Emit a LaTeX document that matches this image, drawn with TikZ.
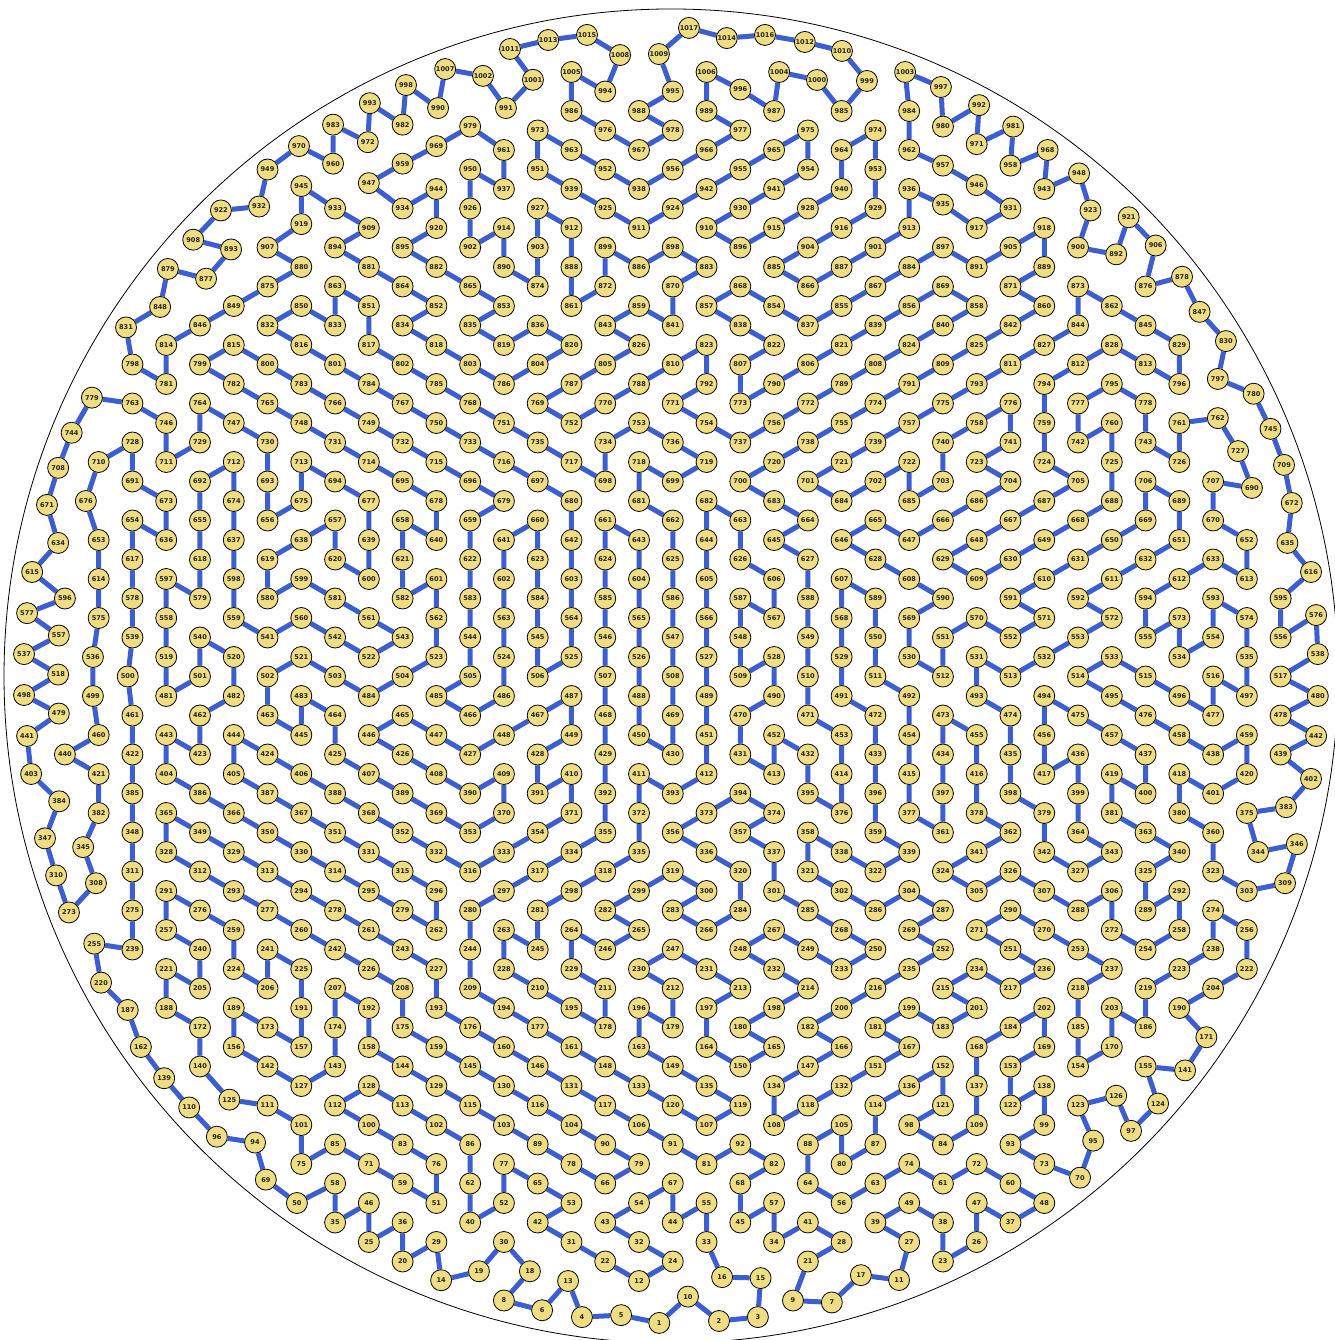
\documentclass[tikz,border=0pt]{standalone}
\usepackage{fontspec}
\newfontfamily\lblfont{DejaVu Sans}
\usetikzlibrary{backgrounds}
\definecolor{nodefill}{RGB}{238,221,130}
\definecolor{edgeblue}{RGB}{60,94,206}
\definecolor{lbltext}{RGB}{34,34,34}
\begin{document}
\begin{tikzpicture}[x=33.77pt,y=-19.5pt,
  v/.style={circle,draw=black,line width=0.8pt,fill=nodefill,inner sep=0pt,minimum size=21pt,
    font=\lblfont\bfseries\fontsize{6.6}{7}\selectfont,text=lbltext},
  tour/.style={draw=edgeblue,line width=5pt},
  rim/.style={draw=black,line width=0.8pt}]
\useasboundingbox (0.0779,-23.6923) rectangle (39.5807,45.0256);
\foreach \n/\c/\m in {
1/19.6/44.15,2/21.37/44.05,3/22.52/43.85,4/17.31/43.85,5/18.47/43.75,6/16.13/43.5,7/24.71/43.1,8/15/43,9/23.56/43,10/20.45/42.8,
11/26.7/41.95,12/19/42,13/16.9/42,14/13.14/41.96,15/22.6/41.85,16/21.46/41.8,17/25.57/41.7,18/15.77/41.5,19/14.26/41.5,20/12/41,
21/24/41,22/18/41,23/28/41,24/20/41,25/11/40,26/29/40,27/27/40,28/25/40,29/13/40,30/15/40,
31/17/40,32/19/40,33/21/40,34/23/40,35/10/39,36/12/39,37/30/39,38/28/39,39/26/39,40/14/39,
41/24/39,42/16/39,43/18/39,44/20/39,45/22/39,46/11/38,47/29/38,48/31/38,49/27/38,50/8.87/38,
51/13/38,52/15/38,53/17/38,54/19/38,55/21/38,56/25/38,57/23/38,58/10/37,59/12/37,60/30/37,
61/28/37,62/14/37,63/26/37,64/24/37,65/16/37,66/18/37,67/20/37,68/22/37,69/7.95/36.8,70/32.06/36.7,
71/11/36,72/29/36,73/31/36,74/27/36,75/9/36,76/13/36,77/15/36,78/17/36,79/19/36,80/25/36,
81/21/36,82/23/36,83/12/35,84/28/35,85/10/35,86/14/35,87/26/35,88/24/35,89/16/35,90/18/35,
91/20/35,92/22/35,93/30/35,94/7.63/34.9,95/32.45/34.8,96/6.5/34.6,97/33.57/34.3,98/27/34,99/31/34,100/11/34,
101/9/34,102/13/34,103/15/34,104/17/34,105/25/34,106/19/34,107/21/34,108/23/34,109/29/34,110/5.68/33.1,
111/8/33,112/10/33,113/12/33,114/26/33,115/14/33,116/16/33,117/18/33,118/24/33,119/22/33,120/20/33,
121/28/33,122/30/33,123/32/33,124/34.37/32.9,125/6.87/32.7,126/33.13/32.5,127/9/32,128/11/32,129/13/32,130/15/32,
131/17/32,132/25/32,133/19/32,134/23/32,135/21/32,136/27/32,137/29/32,138/31/32,139/4.94/31.6,140/6/31,
141/35.17/31.2,142/8/31,143/10/31,144/12/31,145/14/31,146/16/31,147/24/31,148/18/31,149/20/31,150/22/31,
151/26/31,152/28/31,153/30/31,154/32/31,155/34/31,156/7/30,157/9/30,158/11/30,159/13/30,160/15/30,
161/17/30,162/4.25/30,163/19/30,164/21/30,165/23/30,166/25/30,167/27/30,168/29/30,169/31/30,170/33/30,
171/35.8/29.5,172/6/29,173/8/29,174/10/29,175/12/29,176/14/29,177/16/29,178/18/29,179/20/29,180/22/29,
181/26/29,182/24/29,183/28/29,184/30/29,185/32/29,186/34/29,187/3.86/28.1,188/5/28,189/7/28,190/35/28,
191/9/28,192/11/28,193/13/28,194/15/28,195/17/28,196/19/28,197/21/28,198/23/28,199/27/28,200/25/28,
201/29/28,202/31/28,203/33/28,204/36/27,205/6/27,206/8/27,207/10/27,208/12/27,209/14/27,210/16/27,
211/18/27,212/20/27,213/22/27,214/24/27,215/28/27,216/26/27,217/30/27,218/32/27,219/34/27,220/3.07/26.7,
221/5/26,222/37/26,223/35/26,224/7/26,225/9/26,226/11/26,227/13/26,228/15/26,229/17/26,230/19/26,
231/21/26,232/23/26,233/25/26,234/29/26,235/27/26,236/31/26,237/33/26,238/36/25,239/4/25,240/6/25,
241/8/25,242/10/25,243/12/25,244/14/25,245/16/25,246/18/25,247/20/25,248/22/25,249/24/25,250/26/25,
251/30/25,252/28/25,253/32/25,254/34/25,255/2.87/24.7,256/37/24,257/5/24,258/35/24,259/7/24,260/9/24,
261/11/24,262/13/24,263/15/24,264/17/24,265/19/24,266/21/24,267/23/24,268/25/24,269/27/24,270/31/24,
271/29/24,272/33/24,273/2.12/23.1,274/36/23,275/4/23,276/6/23,277/8/23,278/10/23,279/12/23,280/14/23,
281/16/23,282/18/23,283/20/23,284/22/23,285/24/23,286/26/23,287/28/23,288/32/23,289/34/23,290/30/23,
291/5/22,292/35/22,293/7/22,294/9/22,295/11/22,296/13/22,297/15/22,298/17/22,299/19/22,300/21/22,
301/23/22,302/25/22,303/37/22,304/27/22,305/29/22,306/33/22,307/31/22,308/2.92/21.6,309/38.13/21.6,310/1.74/21.2,
311/4/21,312/6/21,313/8/21,314/10/21,315/12/21,316/14/21,317/16/21,318/18/21,319/20/21,320/22/21,
321/24/21,322/26/21,323/36/21,324/28/21,325/34/21,326/30/21,327/32/21,328/5/20,329/7/20,330/9/20,
331/11/20,332/13/20,333/15/20,334/17/20,335/19/20,336/21/20,337/23/20,338/25/20,339/27/20,340/35/20,
341/29/20,342/31/20,343/33/20,344/37.33/20,345/2.54/19.75,346/38.48/19.6,347/1.41/19.3,348/4/19,349/6/19,350/8/19,
351/10/19,352/12/19,353/14/19,354/16/19,355/18/19,356/20/19,357/22/19,358/24/19,359/26/19,360/36/19,
361/28/19,362/30/19,363/34/19,364/32/19,365/5/18,366/7/18,367/9/18,368/11/18,369/13/18,370/15/18,
371/17/18,372/19/18,373/21/18,374/23/18,375/37/18,376/25/18,377/27/18,378/29/18,379/31/18,380/35/18,
381/33/18,382/3/18,383/38.16/17.7,384/1.83/17.4,385/4/17,386/6/17,387/8/17,388/10/17,389/12/17,390/14/17,
391/16/17,392/18/17,393/20/17,394/22/17,395/24/17,396/26/17,397/28/17,398/30/17,399/32/17,400/34/17,
401/36/17,402/38.9/16.25,403/1/16,404/5/16,405/7/16,406/9/16,407/11/16,408/13/16,409/15/16,410/17/16,
411/19/16,412/21/16,413/23/16,414/25/16,415/27/16,416/29/16,417/31/16,418/35/16,419/33/16,420/37/16,
421/3/16,422/4/15,423/6/15,424/8/15,425/10/15,426/12/15,427/14/15,428/16/15,429/18/15,430/20/15,
431/22/15,432/24/15,433/26/15,434/28/15,435/30/15,436/32/15,437/34/15,438/36/15,439/38/15,440/2/15,
441/0.88/14.05,442/39.05/14.05,443/5/14,444/7/14,445/9/14,446/11/14,447/13/14,448/15/14,449/17/14,450/19/14,
451/21/14,452/23/14,453/25/14,454/27/14,455/29/14,456/31/14,457/33/14,458/35/14,459/37/14,460/3/14,
461/4/13,462/6/13,463/8/13,464/10/13,465/12/13,466/14/13,467/16/13,468/18/13,469/20/13,470/22/13,
471/24/13,472/26/13,473/28/13,474/30/13,475/32/13,476/34/13,477/36/13,478/38/13,479/1.82/12.9,480/39.1/12,
481/5/12,482/7/12,483/9/12,484/11/12,485/13/12,486/15/12,487/17/12,488/19/12,489/21/12,490/23/12,
491/25/12,492/27/12,493/29/12,494/31/12,495/33/12,496/35/12,497/37/12,498/0.79/11.95,499/2.83/12,500/3.86/11,
501/6/11,502/8/11,503/10/11,504/12/11,505/14/11,506/16/11,507/18/11,508/20/11,509/22/11,510/24/11,
511/26/11,512/28/11,513/30/11,514/32/11,515/34/11,516/36/11,517/38/11,518/1.8/10.9,519/5/10,520/7/10,
521/9/10,522/11/10,523/13/10,524/15/10,525/17/10,526/19/10,527/21/10,528/23/10,529/25/10,530/27/10,
531/29/10,532/31/10,533/33/10,534/35/10,535/37/10,536/2.83/10,537/0.79/9.85,538/39.1/9.85,539/4/9,540/6/9,
541/8/9,542/10/9,543/12/9,544/14/9,545/16/9,546/18/9,547/20/9,548/22/9,549/24/9,550/26/9,
551/28/9,552/30/9,553/32/9,554/36/9,555/34/9,556/38/9,557/1.82/8.9,558/5/8,559/7/8,560/9/8,
561/11/8,562/13/8,563/15/8,564/17/8,565/19/8,566/21/8,567/23/8,568/25/8,569/27/8,570/29/8,
571/31/8,572/33/8,573/35/8,574/37/8,575/3/8,576/39.05/7.85,577/0.88/7.75,578/4/7,579/6/7,580/8/7,
581/10/7,582/12/7,583/14/7,584/16/7,585/18/7,586/20/7,587/22/7,588/24/7,589/26/7,590/28/7,
591/30/7,592/32/7,593/36/7,594/34/7,595/38/7,596/2/7,597/5/6,598/7/6,599/9/6,600/11/6,
601/13/6,602/15/6,603/17/6,604/19/6,605/21/6,606/23/6,607/25/6,608/27/6,609/29/6,610/31/6,
611/33/6,612/35/6,613/37/6,614/3/6,615/1.03/5.64,616/38.9/5.64,617/4/5,618/6/5,619/8/5,620/10/5,
621/12/5,622/14/5,623/16/5,624/18/5,625/20/5,626/22/5,627/24/5,628/26/5,629/28/5,630/30/5,
631/32/5,632/34/5,633/36/5,634/1.8/4.15,635/38.2/4.15,636/5/4,637/7/4,638/9/4,639/11/4,640/13/4,
641/15/4,642/17/4,643/19/4,644/21/4,645/23/4,646/25/4,647/27/4,648/29/4,649/31/4,650/33/4,
651/35/4,652/37/4,653/3/4,654/4/3,655/6/3,656/8/3,657/10/3,658/12/3,659/14/3,660/16/3,
661/18/3,662/20/3,663/22/3,664/24/3,665/26/3,666/28/3,667/30/3,668/32/3,669/34/3,670/36/3,
671/1.47/2.2,672/38.33/2.1,673/5/2,674/7/2,675/9/2,676/2.62/2,677/11/2,678/13/2,679/15/2,680/17/2,
681/19/2,682/21/2,683/23/2,684/25/2,685/27/2,686/29/2,687/31/2,688/33/2,689/35/2,690/37.15/1.33,
691/4/1,692/6/1,693/8/1,694/10/1,695/12/1,696/14/1,697/16/1,698/18/1,699/20/1,700/22/1,
701/24/1,702/26/1,703/28/1,704/30/1,705/32/1,706/34/1,707/36/1,708/1.8/0.3,709/38.1/0.15,710/3/0,
711/5/0,712/7/0,713/9/0,714/11/0,715/13/0,716/15/0,717/17/0,718/19/0,719/21/0,720/23/0,
721/25/0,722/27/0,723/29/0,724/31/0,725/33/0,726/35/0,727/36.74/-0.56,728/4/-1,729/6/-1,730/8/-1,
731/10/-1,732/12/-1,733/14/-1,734/18/-1,735/16/-1,736/20/-1,737/22/-1,738/24/-1,739/26/-1,740/28/-1,
741/30/-1,742/32/-1,743/34/-1,744/2.2/-1.5,745/37.7/-1.7,746/5/-2,747/7/-2,748/9/-2,749/11/-2,750/13/-2,
751/15/-2,752/17/-2,753/19/-2,754/21/-2,755/25/-2,756/23/-2,757/27/-2,758/29/-2,759/31/-2,760/33/-2,
761/35/-2,762/36.14/-2.25,763/4/-3,764/6/-3,765/8/-3,766/10/-3,767/12/-3,768/14/-3,769/16/-3,770/18/-3,
771/20/-3,772/24/-3,773/22/-3,774/26/-3,775/28/-3,776/30/-3,777/32/-3,778/34/-3,779/2.8/-3.3,780/37.2/-3.5,
781/5/-4,782/7/-4,783/9/-4,784/11/-4,785/13/-4,786/15/-4,787/17/-4,788/19/-4,789/25/-4,790/23/-4,
791/27/-4,792/21/-4,793/29/-4,794/31/-4,795/33/-4,796/35/-4,797/36.14/-4.26,798/4/-5,799/6/-5,800/8/-5,
801/10/-5,802/12/-5,803/14/-5,804/16/-5,805/18/-5,806/24/-5,807/22/-5,808/26/-5,809/28/-5,810/20/-5,
811/30/-5,812/32/-5,813/34/-5,814/5/-6,815/7/-6,816/9/-6,817/11/-6,818/13/-6,819/15/-6,820/17/-6,
821/25/-6,822/23/-6,823/21/-6,824/27/-6,825/29/-6,826/19/-6,827/31/-6,828/33/-6,829/35/-6,830/36.38/-6.2,
831/3.81/-6.9,832/8/-7,833/10/-7,834/12/-7,835/14/-7,836/16/-7,837/24/-7,838/22/-7,839/26/-7,840/28/-7,
841/20/-7,842/30/-7,843/18/-7,844/32/-7,845/34/-7,846/6/-7,847/35.6/-7.7,848/4.82/-7.95,849/7/-8,850/9/-8,
851/11/-8,852/13/-8,853/15/-8,854/23/-8,855/25/-8,856/27/-8,857/21/-8,858/29/-8,859/19/-8,860/31/-8,
861/17/-8,862/33/-8,863/10/-9,864/12/-9,865/14/-9,866/24/-9,867/26/-9,868/22/-9,869/28/-9,870/20/-9,
871/30/-9,872/18/-9,873/32/-9,874/16/-9,875/8/-9,876/34/-9,877/6.18/-9.4,878/35.08/-9.5,879/5.05/-9.9,880/9/-10,
881/11/-10,882/13/-10,883/21/-10,884/27/-10,885/23/-10,886/19/-10,887/25/-10,888/17/-10,889/31/-10,890/15/-10,
891/29/-10,892/33.13/-10.65,893/6.92/-10.9,894/10/-11,895/12/-11,896/22/-11,897/28/-11,898/20/-11,899/18/-11,900/32/-11,
901/26/-11,902/14/-11,903/16/-11,904/24/-11,905/30/-11,906/34.3/-11.1,907/8/-11,908/5.8/-11.4,909/11/-12,910/21/-12,
911/19/-12,912/17/-12,913/27/-12,914/15/-12,915/23/-12,916/25/-12,917/29/-12,918/31/-12,919/9/-12.2,920/13/-12,
921/33.5/-12.55,922/6.62/-12.9,923/32.37/-12.9,924/20/-13,925/18/-13,926/14/-13,927/16/-13,928/24/-13,929/26/-13,930/22/-13,
931/30/-13,932/7.75/-13.1,933/10/-13,934/12/-13,935/28/-13.2,936/27/-14,937/15/-14,938/19/-14,939/17/-14,940/25/-14,
941/23/-14,942/21/-14,943/31/-14,944/13/-14,945/9/-14.15,946/29/-14.2,947/11/-14.3,948/32.03/-14.8,949/8/-15,950/14/-15,
951/16/-15,952/18/-15,953/26/-15,954/24/-15,955/22/-15,956/20/-15,957/28/-15.2,958/30/-15.2,959/12/-15.3,960/9.94/-15.3,
961/15/-16,962/27/-16,963/17/-16,964/25/-16,965/23/-16,966/21/-16,967/19/-16,968/31.1/-16,969/13/-16.2,970/8.93/-16.2,
971/29/-16.3,972/10.97/-16.4,973/16/-17,974/26/-17,975/24/-17,976/18/-17,977/22/-17,978/20/-17,979/14/-17.2,980/28/-17.2,
981/30.08/-17.2,982/12/-17.3,983/9.94/-17.3,984/27/-18,985/25/-18,986/17/-18,987/23/-18,988/19/-18,989/21/-18,990/13.05/-18.15,
991/15.06/-18.15,992/29.07/-18.3,993/11.03/-18.4,994/18/-19,995/20/-19,996/22/-19.1,997/27.94/-19.23,998/12.1/-19.33,999/25.75/-19.54,1000/24.27/-19.59,
1001/15.86/-19.6,1002/14.38/-19.8,1003/26.88/-20,1004/23.15/-20,1005/17/-20,1006/21/-20,1007/13.26/-20.15,1008/18.44/-20.87,1009/19.59/-20.92,1010/25.01/-21.08,
1011/15.18/-21.18,1012/23.91/-21.54,1013/16.31/-21.64,1014/21.6/-21.74,1015/17.46/-21.9,1016/22.73/-21.9,1017/20.48/-22.26}
  \node[v] (n\n) at (\c,\m) {\n};
\begin{pgfonlayer}{background}
\draw[rim] (19.948,10.974) circle[radius=667pt];
\draw[tour] (n1)--(n5)--(n4)--(n13)--(n6)--(n8)--(n18)--(n30)--(n19)--(n14)--(n29)--(n20)--(n36)--(n25)--(n46)--(n35)--(n58)--(n50)--(n69)--(n94)--(n96)--(n110)--(n139)--(n162)--(n187)--(n220)--(n255)--(n239)--(n275)--(n311)--(n348)--(n385)--(n422)--(n461)--(n500)--(n539)--(n578)--(n617)--(n654)--(n636)--(n673)--(n691)--(n728)--(n710)--(n676)--(n653)--(n614)--(n575)--(n536)--(n499)--(n460)--(n440)--(n421)--(n382)--(n345)--(n308)--(n273)--(n310)--(n347)--(n384)--(n403)--(n441)--(n479)--(n498)--(n518)--(n537)--(n557)--(n577)--(n596)--(n615)--(n634)--(n671)--(n708)--(n744)--(n779)--(n763)--(n746)--(n711)--(n729)--(n764)--(n747)--(n730)--(n693)--(n656)--(n675)--(n713)--(n694)--(n677)--(n639)--(n600)--(n620)--(n657)--(n638)--(n619)--(n580)--(n599)--(n581)--(n561)--(n543)--(n522)--(n542)--(n560)--(n541)--(n559)--(n598)--(n637)--(n674)--(n712)--(n692)--(n655)--(n618)--(n579)--(n597)--(n558)--(n519)--(n481)--(n501)--(n540)--(n520)--(n482)--(n462)--(n423)--(n443)--(n404)--(n386)--(n366)--(n350)--(n330)--(n314)--(n295)--(n279)--(n262)--(n296)--(n315)--(n331)--(n351)--(n367)--(n387)--(n405)--(n444)--(n424)--(n406)--(n388)--(n368)--(n352)--(n332)--(n316)--(n333)--(n354)--(n371)--(n410)--(n391)--(n428)--(n449)--(n487)--(n467)--(n448)--(n427)--(n447)--(n465)--(n446)--(n426)--(n408)--(n390)--(n409)--(n370)--(n353)--(n369)--(n389)--(n407)--(n425)--(n464)--(n483)--(n445)--(n463)--(n502)--(n521)--(n503)--(n484)--(n504)--(n523)--(n562)--(n601)--(n582)--(n621)--(n658)--(n640)--(n678)--(n695)--(n714)--(n731)--(n748)--(n765)--(n782)--(n799)--(n815)--(n800)--(n783)--(n766)--(n749)--(n732)--(n715)--(n696)--(n679)--(n659)--(n622)--(n583)--(n544)--(n505)--(n485)--(n466)--(n486)--(n524)--(n563)--(n602)--(n641)--(n660)--(n623)--(n584)--(n545)--(n506)--(n525)--(n564)--(n603)--(n642)--(n680)--(n697)--(n716)--(n733)--(n750)--(n767)--(n784)--(n801)--(n816)--(n832)--(n850)--(n833)--(n863)--(n851)--(n817)--(n802)--(n785)--(n768)--(n751)--(n735)--(n717)--(n698)--(n734)--(n753)--(n736)--(n719)--(n699)--(n718);
\draw[tour] (n1)--(n10)--(n2)--(n3)--(n15)--(n16)--(n33)--(n55)--(n44)--(n67)--(n54)--(n43)--(n32)--(n24)--(n12)--(n22)--(n31)--(n42)--(n53)--(n65)--(n77)--(n52)--(n40)--(n62)--(n86)--(n102)--(n113)--(n128)--(n112)--(n100)--(n83)--(n76)--(n51)--(n59)--(n71)--(n85)--(n75)--(n101)--(n111)--(n125)--(n140)--(n172)--(n188)--(n221)--(n205)--(n240)--(n257)--(n291)--(n276)--(n259)--(n224)--(n206)--(n241)--(n225)--(n191)--(n157)--(n173)--(n189)--(n156)--(n142)--(n127)--(n143)--(n174)--(n207)--(n192)--(n158)--(n144)--(n129)--(n115)--(n103)--(n89)--(n78)--(n66)--(n79)--(n90)--(n104)--(n116)--(n130)--(n145)--(n159)--(n175)--(n208)--(n226)--(n242)--(n260)--(n277)--(n293)--(n312)--(n328)--(n365)--(n349)--(n329)--(n313)--(n294)--(n278)--(n261)--(n243)--(n227)--(n193)--(n176)--(n160)--(n146)--(n131)--(n117)--(n106)--(n91)--(n81)--(n92)--(n82)--(n68)--(n45)--(n57)--(n34)--(n41)--(n28)--(n21)--(n9)--(n7)--(n17)--(n11)--(n27)--(n39)--(n49)--(n38)--(n23)--(n26)--(n47)--(n37)--(n48)--(n60)--(n72)--(n61)--(n74)--(n63)--(n56)--(n64)--(n88)--(n105)--(n80)--(n87)--(n114)--(n136)--(n152)--(n121)--(n98)--(n84)--(n109)--(n137)--(n168)--(n184)--(n202)--(n169)--(n153)--(n122)--(n138)--(n99)--(n93)--(n73)--(n70)--(n95)--(n123)--(n126)--(n97)--(n124)--(n155)--(n141)--(n171)--(n190)--(n204)--(n222)--(n256)--(n274)--(n238)--(n223)--(n219)--(n186)--(n203)--(n170)--(n154)--(n185)--(n218)--(n237)--(n253)--(n270)--(n290)--(n271)--(n251)--(n236)--(n217)--(n234)--(n215)--(n201)--(n183)--(n199)--(n181)--(n167)--(n151)--(n132)--(n118)--(n108)--(n134)--(n147)--(n166)--(n182)--(n200)--(n216)--(n235)--(n252)--(n269)--(n287)--(n304)--(n286)--(n302)--(n321)--(n358)--(n338)--(n322)--(n339)--(n359)--(n396)--(n433)--(n472)--(n491)--(n529)--(n568)--(n607)--(n589)--(n550)--(n511)--(n492)--(n454)--(n415)--(n377)--(n361)--(n397)--(n434)--(n473)--(n455)--(n416)--(n378)--(n362)--(n341)--(n324)--(n305)--(n326)--(n307)--(n288)--(n306)--(n272)--(n254)--(n258)--(n292)--(n289)--(n325)--(n340)--(n363)--(n381)--(n419)--(n400)--(n437)--(n457)--(n475)--(n494)--(n456)--(n417)--(n436)--(n399)--(n364)--(n343)--(n327)--(n342)--(n379)--(n398)--(n435)--(n474)--(n493)--(n531)--(n513)--(n532)--(n553)--(n572)--(n592)--(n611)--(n632)--(n651)--(n689)--(n706)--(n669)--(n650)--(n631)--(n610)--(n591)--(n571)--(n552)--(n570)--(n551)--(n512)--(n530)--(n569)--(n590)--(n608)--(n628)--(n646)--(n665)--(n647)--(n666)--(n686)--(n704)--(n723)--(n741)--(n776)--(n758)--(n740)--(n703)--(n685)--(n722)--(n702)--(n684)--(n701)--(n721)--(n739)--(n757)--(n775)--(n793)--(n811)--(n827)--(n844)--(n873)--(n862)--(n845)--(n829)--(n796)--(n813)--(n828)--(n812)--(n794)--(n759)--(n724)--(n705)--(n687)--(n667)--(n648)--(n629)--(n609)--(n630)--(n649)--(n668)--(n688)--(n725)--(n760)--(n742)--(n777)--(n795)--(n778)--(n743)--(n726)--(n761)--(n762)--(n727)--(n690)--(n707)--(n670)--(n652)--(n613)--(n633)--(n612)--(n594)--(n555)--(n573)--(n534)--(n554)--(n593)--(n574)--(n535)--(n497)--(n516)--(n477)--(n496)--(n515)--(n533)--(n514)--(n495)--(n476)--(n458)--(n438)--(n459)--(n420)--(n401)--(n418)--(n380)--(n360)--(n323)--(n303)--(n309)--(n346)--(n344)--(n375)--(n383)--(n402)--(n439)--(n442)--(n478)--(n480)--(n517)--(n538)--(n576)--(n556)--(n595)--(n616)--(n635)--(n672)--(n709)--(n745)--(n780)--(n797)--(n830)--(n847)--(n878)--(n876)--(n906)--(n921)--(n892)--(n900)--(n923)--(n948)--(n943)--(n968)--(n958)--(n981)--(n971)--(n992)--(n980)--(n997)--(n1003)--(n984)--(n962)--(n957)--(n946)--(n931)--(n917)--(n935)--(n936)--(n913)--(n901)--(n887)--(n866)--(n885)--(n904)--(n916)--(n929)--(n953)--(n974)--(n964)--(n940)--(n928)--(n915)--(n896)--(n910)--(n930)--(n941)--(n954)--(n975)--(n965)--(n955)--(n942)--(n924)--(n911)--(n925)--(n939)--(n951)--(n973)--(n963)--(n952)--(n938)--(n956)--(n966)--(n977)--(n989)--(n1006)--(n996)--(n987)--(n1004)--(n1000)--(n985)--(n999)--(n1010)--(n1012)--(n1016)--(n1014)--(n1017)--(n1009)--(n995)--(n988)--(n978)--(n967)--(n976)--(n986)--(n1005)--(n994)--(n1008)--(n1015)--(n1013)--(n1011)--(n1001)--(n991)--(n1002)--(n1007)--(n990)--(n998)--(n982)--(n993)--(n972)--(n983)--(n960)--(n970)--(n949)--(n932)--(n922)--(n908)--(n893)--(n877)--(n879)--(n848)--(n831)--(n798)--(n781)--(n814)--(n846)--(n849)--(n875)--(n880)--(n907)--(n919)--(n945)--(n933)--(n909)--(n894)--(n881)--(n864)--(n852)--(n834)--(n818)--(n803)--(n786)--(n804)--(n820)--(n836)--(n819)--(n835)--(n853)--(n865)--(n882)--(n895)--(n920)--(n944)--(n934)--(n947)--(n959)--(n969)--(n979)--(n961)--(n937)--(n950)--(n926)--(n902)--(n914)--(n890)--(n874)--(n903)--(n927)--(n912)--(n888)--(n861)--(n872)--(n899)--(n886)--(n898)--(n883)--(n870)--(n841)--(n859)--(n843)--(n826)--(n805)--(n787)--(n769)--(n752)--(n770)--(n788)--(n810)--(n823)--(n792)--(n771)--(n754)--(n737)--(n756)--(n772)--(n789)--(n808)--(n824)--(n840)--(n858)--(n869)--(n856)--(n839)--(n821)--(n806)--(n790)--(n773)--(n807)--(n822)--(n838)--(n857)--(n868)--(n854)--(n837)--(n855)--(n867)--(n884)--(n897)--(n891)--(n905)--(n918)--(n889)--(n871)--(n860)--(n842)--(n825)--(n809)--(n791)--(n774)--(n755)--(n738)--(n720)--(n700)--(n683)--(n664)--(n645)--(n627)--(n588)--(n549)--(n510)--(n471)--(n453)--(n414)--(n376)--(n395)--(n432)--(n452)--(n413)--(n431)--(n470)--(n490)--(n528)--(n509)--(n548)--(n587)--(n567)--(n606)--(n626)--(n663)--(n682)--(n644)--(n605)--(n566)--(n527)--(n489)--(n451)--(n412)--(n393)--(n411)--(n372)--(n335)--(n318)--(n298)--(n281)--(n245)--(n263)--(n228)--(n210)--(n195)--(n178)--(n211)--(n229)--(n264)--(n246)--(n265)--(n282)--(n299)--(n319)--(n300)--(n283)--(n266)--(n284)--(n320)--(n336)--(n356)--(n373)--(n394)--(n374)--(n357)--(n337)--(n301)--(n285)--(n268)--(n250)--(n233)--(n249)--(n267)--(n248)--(n232)--(n214)--(n198)--(n180)--(n165)--(n150)--(n164)--(n197)--(n213)--(n231)--(n247)--(n230)--(n212)--(n179)--(n196)--(n163)--(n149)--(n135)--(n119)--(n107)--(n120)--(n133)--(n148)--(n161)--(n177)--(n194)--(n209)--(n244)--(n280)--(n297)--(n317)--(n334)--(n355)--(n392)--(n429)--(n468)--(n507)--(n546)--(n585)--(n624)--(n661)--(n643)--(n604)--(n565)--(n526)--(n488)--(n450)--(n430)--(n469)--(n508)--(n547)--(n586)--(n625)--(n662)--(n681)--(n718);
\end{pgfonlayer}
\end{tikzpicture}
\end{document}
